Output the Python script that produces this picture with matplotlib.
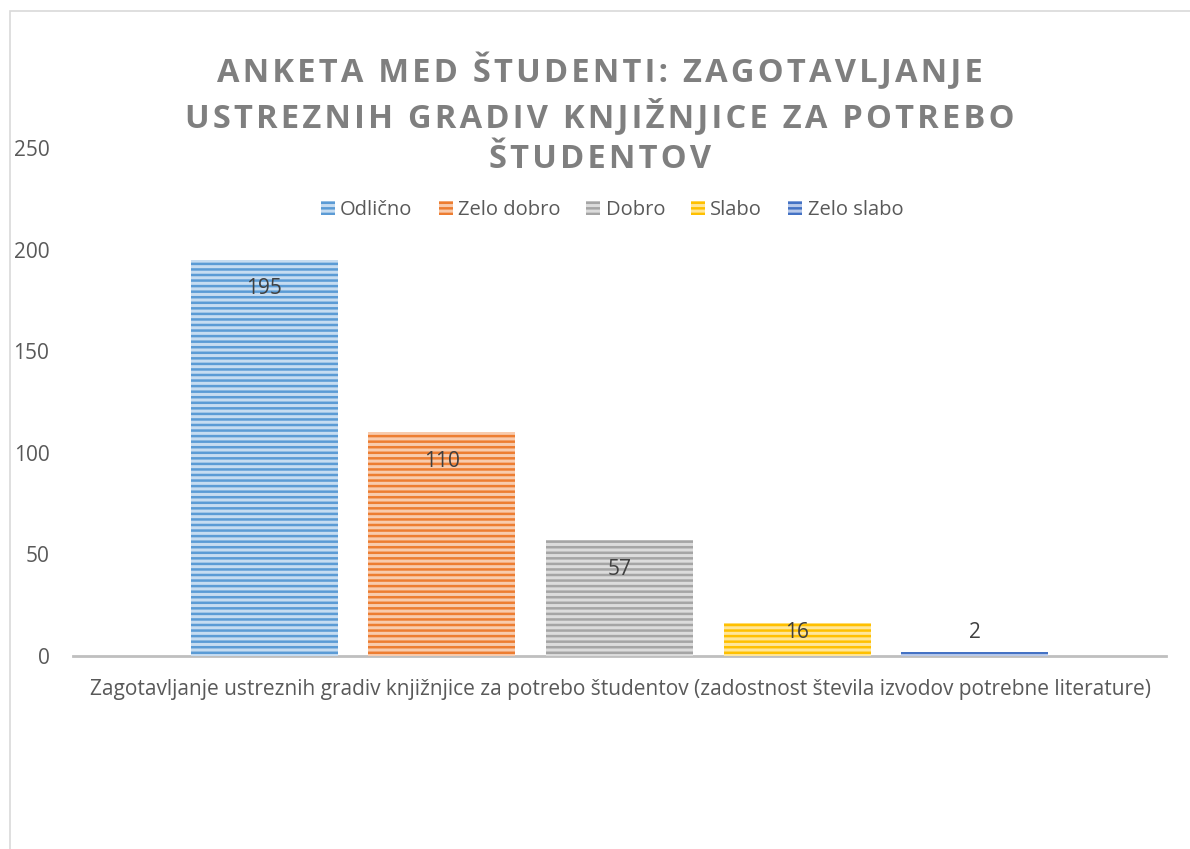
import matplotlib.pyplot as plt
import matplotlib.patches as mpatches
import numpy as np

kategorije = ['Odlično', 'Zelo dobro', 'Dobro', 'Slabo', 'Zelo slabo']
vrednosti = [195, 110, 57, 16, 2]
barve = ['#5b9bd5', '#ed7d31', '#a5a5a5', '#ffc000', '#4472c4']
svetle = ['#c6dcf1', '#f8cbad', '#dcdcdc', '#ffe699', '#b8c9ea']
naslov = 'ANKETA MED ŠTUDENTI: ZAGOTAVLJANJE\nUSTREZNIH GRADIV KNJIŽNJICE ZA POTREBO\nŠTUDENTOV'
xoznaka = ('Zagotavljanje ustreznih gradiv knjižnjice za potrebo študentov '
           '(zadostnost števila izvodov potrebne literature)')

plt.rcParams['font.family'] = ['Open Sans', 'DejaVu Sans']
plt.rcParams['hatch.linewidth'] = 1.8
siva = '#595959'

fig = plt.figure(figsize=(11.9, 8.49), dpi=100)
fig.patches.append(mpatches.Rectangle((10/1190, -0.1), 1.2, 1 - 11/849 + 0.1,
                                      transform=fig.transFigure, fill=False,
                                      edgecolor='#d9d9d9', linewidth=1.2))
ax = fig.add_axes([73/1190, 1 - 656/849, (1166-73)/1190, (656-148)/849])

x = np.arange(len(vrednosti))
w = 147/178
for i in range(len(vrednosti)):
    ax.bar(x[i], vrednosti[i], width=w, color=svetle[i], edgecolor=barve[i],
           hatch='---', linewidth=0, label=kategorije[i], zorder=2)
    # oznaka na notranjem koncu, pri nizkih stolpcih pa nad osjo
    ax.text(x[i], max(vrednosti[i] - 14.3, 11.8), str(vrednosti[i]),
            ha='center', va='center', fontsize=15, color='#404040', zorder=3)

ax.set_xlim(-1.076, 4 + 1.076)
ax.set_ylim(0, 250)
ax.set_yticks([0, 50, 100, 150, 200, 250])
ax.tick_params(axis='y', length=0, labelsize=15, labelcolor=siva, pad=17)
ax.set_xticks([])
for s in ['top', 'right', 'left']:
    ax.spines[s].set_visible(False)
ax.spines['bottom'].set_color('#bfbfbf')
ax.spines['bottom'].set_linewidth(2)
ax.spines['bottom'].set_zorder(1)

fig.text(620/1190, 1 - 690/849, xoznaka, ha='center', va='center',
         fontsize=15, color=siva)

def razmak(t):
    return '\n'.join('\u200a'.join(list(v)) for v in t.split('\n'))

fig.text(600/1190, 1 - 114/849, razmak(naslov), ha='center', va='center',
         fontsize=23.5, fontweight='bold', color='#7f7f7f', linespacing=1.3)

leg = fig.legend(loc='center', bbox_to_anchor=(612/1190, 1 - 210/849), ncol=5,
                 frameon=False, fontsize=14.5, handlelength=0.7, handleheight=0.7,
                 handletextpad=0.25, columnspacing=1.3, labelcolor=siva)

fig.savefig('out.png', dpi=100)
